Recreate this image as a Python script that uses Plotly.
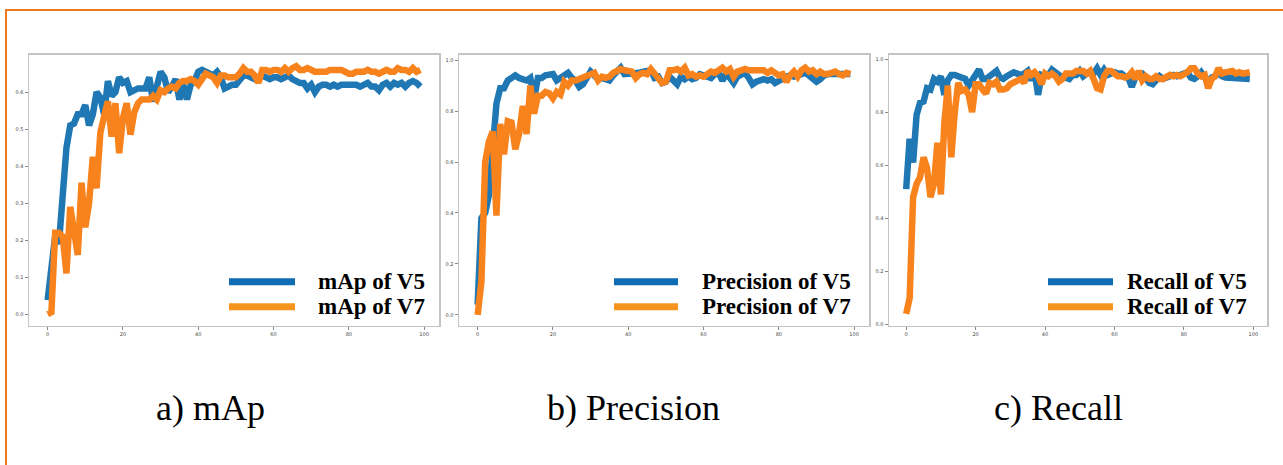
import plotly.graph_objects as go

epochs = list(range(100))

map_v5 = [0.038, 0.12, 0.21, 0.19, 0.35, 0.45, 0.51, 0.515, 0.54, 0.54,
          0.565, 0.51, 0.54, 0.60, 0.585, 0.54, 0.63, 0.59, 0.60, 0.64,
          0.625, 0.63, 0.60, 0.605, 0.61, 0.61, 0.61, 0.64, 0.575, 0.615,
          0.655, 0.64, 0.60, 0.615, 0.635, 0.58, 0.62, 0.58, 0.62, 0.63,
          0.655, 0.66, 0.655, 0.65, 0.645, 0.655, 0.64, 0.61, 0.615, 0.62,
          0.62, 0.63, 0.645, 0.645, 0.64, 0.635, 0.64, 0.645, 0.64, 0.635,
          0.64, 0.64, 0.635, 0.64, 0.645, 0.635, 0.63, 0.625, 0.625, 0.61,
          0.62, 0.60, 0.615, 0.62, 0.62, 0.615, 0.62, 0.615, 0.62, 0.62,
          0.62, 0.62, 0.62, 0.615, 0.62, 0.625, 0.615, 0.615, 0.605, 0.62,
          0.625, 0.615, 0.625, 0.62, 0.625, 0.615, 0.625, 0.63, 0.625, 0.615]
map_v7 = [0.0, 0.005, 0.22, 0.22, 0.21, 0.11, 0.29, 0.22, 0.16, 0.355,
          0.235, 0.30, 0.425, 0.34, 0.49, 0.535, 0.575, 0.48, 0.57, 0.435,
          0.53, 0.57, 0.485, 0.545, 0.57, 0.58, 0.58, 0.58, 0.59, 0.58,
          0.605, 0.60, 0.61, 0.615, 0.61, 0.625, 0.63, 0.63, 0.635, 0.63,
          0.62, 0.635, 0.65, 0.645, 0.64, 0.625, 0.645, 0.645, 0.64, 0.64,
          0.64, 0.65, 0.665, 0.655, 0.655, 0.645, 0.625, 0.66, 0.66, 0.655,
          0.66, 0.66, 0.655, 0.665, 0.655, 0.665, 0.67, 0.66, 0.66, 0.665,
          0.66, 0.655, 0.655, 0.655, 0.655, 0.66, 0.66, 0.66, 0.66, 0.655,
          0.65, 0.65, 0.655, 0.655, 0.655, 0.66, 0.655, 0.655, 0.65, 0.655,
          0.66, 0.655, 0.655, 0.665, 0.66, 0.66, 0.655, 0.665, 0.655, 0.66]

prec_v5 = [0.04, 0.38, 0.40, 0.47, 0.65, 0.83, 0.89, 0.89, 0.92, 0.93,
           0.94, 0.93, 0.925, 0.92, 0.93, 0.85, 0.93, 0.93, 0.94, 0.94,
           0.945, 0.92, 0.93, 0.945, 0.95, 0.93, 0.92, 0.895, 0.905, 0.93,
           0.955, 0.94, 0.925, 0.93, 0.925, 0.92, 0.94, 0.955, 0.97, 0.945,
           0.945, 0.95, 0.945, 0.95, 0.955, 0.96, 0.96, 0.93, 0.935, 0.91,
           0.915, 0.935, 0.92, 0.905, 0.935, 0.925, 0.935, 0.925, 0.93, 0.945,
           0.94, 0.935, 0.93, 0.945, 0.95, 0.92, 0.945, 0.93, 0.91, 0.935,
           0.945, 0.95, 0.93, 0.905, 0.915, 0.92, 0.925, 0.92, 0.925, 0.91,
           0.92, 0.93, 0.935, 0.94, 0.935, 0.94, 0.945, 0.95, 0.94, 0.93,
           0.915, 0.925, 0.94, 0.945, 0.945, 0.95, 0.945, 0.95, 0.95, 0.945]
prec_v7 = [0.0, 0.13, 0.60, 0.68, 0.72, 0.39, 0.75, 0.63, 0.76, 0.755,
           0.65, 0.71, 0.82, 0.71, 0.90, 0.79, 0.86, 0.86, 0.875, 0.87,
           0.85, 0.875, 0.865, 0.915, 0.90, 0.92, 0.92, 0.925, 0.935, 0.935,
           0.94, 0.95, 0.92, 0.935, 0.93, 0.935, 0.95, 0.96, 0.965, 0.96,
           0.96, 0.955, 0.93, 0.945, 0.95, 0.945, 0.965, 0.945, 0.93, 0.91,
           0.915, 0.96, 0.96, 0.965, 0.955, 0.97, 0.94, 0.945, 0.935, 0.94,
           0.935, 0.945, 0.955, 0.95, 0.96, 0.97, 0.955, 0.965, 0.935, 0.955,
           0.96, 0.965, 0.96, 0.96, 0.955, 0.955, 0.96, 0.95, 0.96, 0.95,
           0.94, 0.945, 0.915, 0.94, 0.955, 0.935, 0.96, 0.97, 0.955, 0.96,
           0.945, 0.955, 0.945, 0.945, 0.95, 0.955, 0.945, 0.94, 0.95, 0.945]

rec_v5 = [0.51, 0.70, 0.61, 0.79, 0.835, 0.84, 0.89, 0.885, 0.925, 0.915,
          0.935, 0.865, 0.92, 0.94, 0.94, 0.935, 0.93, 0.925, 0.90, 0.92,
          0.935, 0.96, 0.925, 0.925, 0.935, 0.945, 0.955, 0.93, 0.925, 0.935,
          0.945, 0.95, 0.945, 0.94, 0.945, 0.955, 0.92, 0.95, 0.865, 0.94,
          0.935, 0.94, 0.96, 0.95, 0.945, 0.93, 0.93, 0.925, 0.94, 0.94,
          0.955, 0.935, 0.945, 0.95, 0.945, 0.965, 0.94, 0.96, 0.94, 0.945,
          0.95, 0.945, 0.945, 0.935, 0.93, 0.895, 0.93, 0.945, 0.945, 0.93,
          0.91, 0.905, 0.92, 0.935, 0.925, 0.93, 0.935, 0.94, 0.935, 0.94,
          0.945, 0.95, 0.93, 0.925, 0.935, 0.95, 0.93, 0.915, 0.93, 0.935,
          0.95, 0.935, 0.93, 0.93, 0.925, 0.925, 0.925, 0.925, 0.93, 0.925]
rec_v7 = [0.04, 0.10, 0.48, 0.53, 0.555, 0.63, 0.59, 0.48, 0.53, 0.685,
          0.49, 0.76, 0.90, 0.63, 0.80, 0.91, 0.88, 0.885, 0.865, 0.80,
          0.905, 0.905, 0.885, 0.87, 0.91, 0.905, 0.915, 0.885, 0.885, 0.89,
          0.905, 0.91, 0.92, 0.925, 0.91, 0.955, 0.94, 0.95, 0.935, 0.905,
          0.945, 0.935, 0.945, 0.935, 0.915, 0.925, 0.945, 0.945, 0.945, 0.955,
          0.955, 0.955, 0.945, 0.955, 0.925, 0.89, 0.885, 0.935, 0.955, 0.955,
          0.945, 0.935, 0.935, 0.93, 0.935, 0.95, 0.925, 0.955, 0.92, 0.935,
          0.925, 0.925, 0.935, 0.925, 0.925, 0.935, 0.94, 0.935, 0.94, 0.935,
          0.94, 0.95, 0.965, 0.965, 0.945, 0.935, 0.94, 0.89, 0.925, 0.935,
          0.965, 0.945, 0.95, 0.955, 0.955, 0.945, 0.95, 0.945, 0.95, 0.95]

legend_v5 = ["mAp of V5", "Precision of V5", "Recall of V5"]
legend_v7 = ["mAp of V7", "Precision of V7", "Recall of V7"]
captions = ["a) mAp", "b) Precision", "c) Recall"]
x_ticks = [0, 20, 40, 60, 80, 100]
y_ticks_map = [0.0, 0.1, 0.2, 0.3, 0.4, 0.5, 0.6]
y_ticks_pr = [0.0, 0.2, 0.4, 0.6, 0.8, 1.0]

W, H = 1283, 465
BLUE = "#1f77b4"
ORANGE = "#f8821c"
LEG_BLUE = "#0e6cb4"
LEG_ORANGE = "#f7941d"


def px_x(p):
    return p / W


def px_y(p):
    return 1 - p / H


panels = [
    dict(x0=29, x1=439, v5=map_v5, v7=map_v7, yr=[-0.031, 0.701], yt=y_ticks_map,
         leg_line=(229, 295), leg_text=316, cap=210),
    dict(x0=459, x1=869, v5=prec_v5, v7=prec_v7, yr=[-0.042, 1.021], yt=y_ticks_pr,
         leg_line=(614, 678), leg_text=700, cap=633),
    dict(x0=889, x1=1267, v5=rec_v5, v7=rec_v7, yr=[-0.004, 1.016], yt=y_ticks_pr,
         leg_line=(1048, 1113), leg_text=1125, cap=1058),
]
top, bottom = 55, 327

fig = go.Figure()
layout = dict(
    width=W, height=H, autosize=False,
    margin=dict(l=0, r=0, t=0, b=0),
    paper_bgcolor="white", plot_bgcolor="white",
    showlegend=False,
    shapes=[], annotations=[],
)

for i, p in enumerate(panels):
    n = "" if i == 0 else str(i + 1)
    fig.add_trace(go.Scatter(x=epochs, y=p["v5"], mode="lines",
                             line=dict(color=BLUE, width=6.5),
                             xaxis="x" + n, yaxis="y" + n))
    fig.add_trace(go.Scatter(x=epochs, y=p["v7"], mode="lines",
                             line=dict(color=ORANGE, width=6.5),
                             xaxis="x" + n, yaxis="y" + n))
    axcommon = dict(showline=True, mirror=True, linecolor="#c4c4c4", linewidth=1.5,
                    showgrid=False, zeroline=False, ticks="outside", ticklen=3,
                    tickcolor="#888", tickfont=dict(size=5, color="#444", family="DejaVu Sans"))
    layout["xaxis" + n] = dict(domain=[px_x(p["x0"]), px_x(p["x1"])], range=[-4.95, 103.95],
                               anchor="y" + n, tickvals=x_ticks, **axcommon)
    layout["yaxis" + n] = dict(domain=[px_y(bottom), px_y(top)], range=p["yr"],
                               anchor="x" + n, tickvals=p["yt"], tickformat=".1f", **axcommon)
    for j, (col, txt, yy) in enumerate([(LEG_BLUE, legend_v5[i], 283), (LEG_ORANGE, legend_v7[i], 308)]):
        layout["shapes"].append(dict(type="line", xref="paper", yref="paper",
                                     x0=px_x(p["leg_line"][0]), x1=px_x(p["leg_line"][1]),
                                     y0=px_y(yy), y1=px_y(yy),
                                     line=dict(color=col, width=7)))
        layout["annotations"].append(dict(xref="paper", yref="paper", x=px_x(p["leg_text"]),
                                          y=px_y(yy), xanchor="left", yanchor="middle",
                                          text="<b>" + txt + "</b>", showarrow=False,
                                          font=dict(family="Liberation Serif", size=23, color="black")))
    layout["annotations"].append(dict(xref="paper", yref="paper", x=px_x(p["cap"]), y=px_y(410),
                                      xanchor="center", yanchor="middle", text=captions[i],
                                      showarrow=False,
                                      font=dict(family="Liberation Serif", size=36, color="black")))

layout["shapes"].append(dict(type="rect", xref="paper", yref="paper",
                             x0=px_x(6), x1=1.02, y0=-0.02, y1=px_y(10),
                             line=dict(color="#f07a1a", width=2), layer="below"))

fig.update_layout(**layout)
fig.write_html("out.html",
               config={"displayModeBar": False, "staticPlot": True},
               post_script="document.body.style.margin='0';document.body.style.overflow='hidden';")
